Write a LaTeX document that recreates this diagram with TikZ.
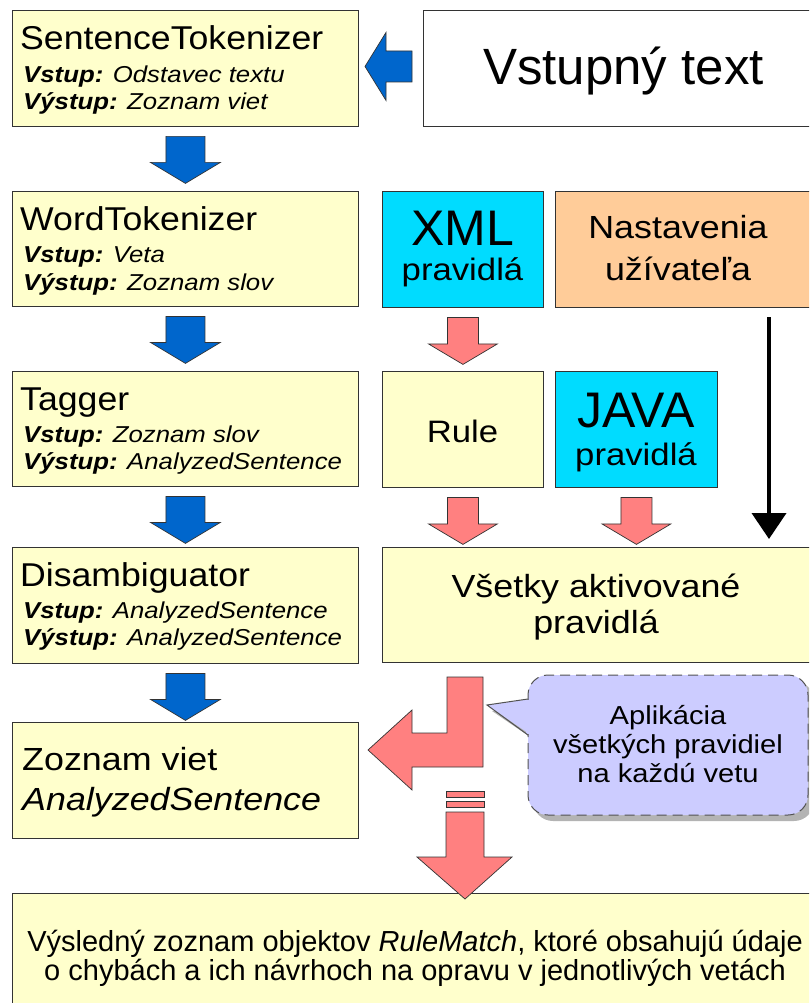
\documentclass[tikz,border=0pt]{standalone}
\usepackage{fontspec}
\setmainfont{Liberation Sans}
\newfontfamily\stf[FakeStretch=1.12]{Liberation Sans}
\newfontfamily\ttf[FakeStretch=1.08]{Liberation Sans}
\usetikzlibrary{arrows.meta,calc}
\definecolor{boxyellow}{HTML}{FFFFCC}
\definecolor{arrblue}{HTML}{0066CC}
\definecolor{arrpink}{HTML}{FF8080}
\definecolor{boxcyan}{HTML}{00DCFF}
\definecolor{boxorange}{HTML}{FFCC99}
\definecolor{lav}{HTML}{CCCCFF}
\definecolor{shadowgray}{HTML}{B3B3B3}
\definecolor{edge}{HTML}{333333}
\newcommand\fsz[1]{\fontsize{#1}{#1}\selectfont}
\begin{document}
\begin{tikzpicture}[x=1pt,y=-1pt,
  box/.style={draw=edge, line width=0.9pt, fill=boxyellow, rectangle, inner sep=0pt, anchor=north west},
  ttl/.style={anchor=base west, inner sep=0pt, font=\ttf\fsz{33}},
  sub/.style={anchor=base west, inner sep=0pt, font=\stf\fsz{23}},
  ctr/.style={anchor=base, inner sep=0pt},
  bluearrow/.style={draw=edge, line width=0.7pt, fill=arrblue},
  pinkarrow/.style={draw=edge, line width=0.7pt, fill=arrpink},
  bluedown/.pic={\path[bluearrow] (-19.5,-23.5) -- (19.5,-23.5) -- (19.5,2.5) -- (35,2.5) -- (0,23.5) -- (-35,2.5) -- (-19.5,2.5) -- cycle;},
  pinkdown/.pic={\path[pinkarrow] (-15.5,-23.5) -- (15.5,-23.5) -- (15.5,3) -- (34.5,3) -- (0,23.5) -- (-34.5,3) -- (-15.5,3) -- cycle;},
  blueleft/.pic={\path[bluearrow] (23.5,-15.5) -- (23.5,15.5) -- (-2.5,15.5) -- (-2.5,34) -- (-23.5,0) -- (-2.5,-34) -- (-2.5,-15.5) -- cycle;}
]
\useasboundingbox (0,0) rectangle (809,1003);
\clip (0,0) rectangle (809,1003);

% left column boxes
\node[box, minimum width=346pt, minimum height=116pt] (b1) at (12,10) {};
\node[box, minimum width=346pt, minimum height=115pt] (b2) at (12,191) {};
\node[box, minimum width=346pt, minimum height=115pt] (b3) at (12,371) {};
\node[box, minimum width=346pt, minimum height=116pt] (b4) at (12,547) {};
\node[box, minimum width=346pt, minimum height=116pt] (b5) at (12,722) {};

% right side boxes
\node[box, fill=white, minimum width=392pt, minimum height=116pt] (vst) at (423,10) {};
\node[box, fill=boxcyan, minimum width=161pt, minimum height=116pt] (xml) at (382,191) {};
\node[box, fill=boxorange, minimum width=260pt, minimum height=116pt] (nast) at (555,191) {};
\node[box, minimum width=161pt, minimum height=116pt] (rule) at (382,371) {};
\node[box, fill=boxcyan, minimum width=162pt, minimum height=116pt] (java) at (555,371) {};
\node[box, minimum width=433pt, minimum height=115pt] (all) at (382,547) {};
\node[box, minimum width=803pt, minimum height=120pt] (res) at (12,893) {};

% texts, left column
\node[ttl] (t1) at (20,50) {SentenceTokenizer};
\node[sub] (t1a) at (23,83) {{\bfseries\itshape Vstup:} {\itshape Odstavec textu}};
\node[sub] (t1b) at (23,110) {{\bfseries\itshape Výstup:} {\itshape Zoznam viet}};
\node[ttl] (t2) at (20,230) {WordTokenizer};
\node[sub] (t2a) at (23,262) {{\bfseries\itshape Vstup:} {\itshape Veta}};
\node[sub] (t2b) at (23,290) {{\bfseries\itshape Výstup:} {\itshape Zoznam slov}};
\node[ttl] (t3) at (20,410) {Tagger};
\node[sub] (t3a) at (23,442) {{\bfseries\itshape Vstup:} {\itshape Zoznam slov}};
\node[sub] (t3b) at (23,469) {{\bfseries\itshape Výstup:} {\itshape AnalyzedSentence}};
\node[ttl] (t4) at (20,586) {Disambiguator};
\node[sub] (t4a) at (23,618) {{\bfseries\itshape Vstup:} {\itshape AnalyzedSentence}};
\node[sub] (t4b) at (23,645) {{\bfseries\itshape Výstup:} {\itshape AnalyzedSentence}};
\node[ttl, font=\stf\fsz{32}] (t5) at (22,770) {Zoznam viet};
\node[ttl, font=\stf\fsz{32}] (t5a) at (22,810) {\itshape AnalyzedSentence};

% texts, right side
\node[ctr, font=\fsz{51}] (tv) at (623.5,85) {Vstupný text};
\node[ctr, font=\fsz{50}] (tx) at (462.5,245) {XML};
\node[ctr, font=\stf\fsz{31}] (txp) at (462.5,280) {pravidlá};
\node[ctr, font=\stf\fsz{32}] (tn1) at (678,238) {Nastavenia};
\node[ctr, font=\stf\fsz{32}] (tn2) at (678,280) {užívateľa};
\node[ctr, font=\stf\fsz{31}] (tr) at (462.5,442) {Rule};
\node[ctr, font=\fsz{50}] (tj) at (636,427) {JAVA};
\node[ctr, font=\stf\fsz{31}] (tjp) at (636,465) {pravidlá};
\node[ctr, font=\stf\fsz{32}] (ta1) at (596,597) {Všetky aktivované};
\node[ctr, font=\stf\fsz{32}] (ta2) at (596,633) {pravidlá};
\node[anchor=center, inner sep=0pt, align=center, font=\fontsize{29}{29}\selectfont] (tres) at (415,958.5)
  {Výsledný zoznam objektov {\itshape RuleMatch}, ktoré obsahujú údaje\\o chybách a ich návrhoch na opravu v jednotlivých vetách};

% blue block arrows
\pic at ([yshift=-33pt]b1.south) {bluedown};
\pic at ([yshift=-33pt]b2.south) {bluedown};
\pic at ([yshift=-33pt]b3.south) {bluedown};
\pic at ([yshift=-33pt]b4.south) {bluedown};
\pic at ([xshift=-34.5pt,yshift=2pt]vst.west) {blueleft};

% pink block arrows
\pic at ([yshift=-33pt]xml.south) {pinkdown};
\pic at ([yshift=-33pt]rule.south) {pinkdown};
\pic at ([yshift=-33pt]java.south) {pinkdown};

% black arrow from settings
\coordinate (bs) at (769,317);
\coordinate (be) at (769,539);
\draw[line width=4pt, -{Triangle[length=26pt,width=34pt]}] (bs) -- (be);

% L-shaped pink arrow into the sentence list
\path[pinkarrow] (483,677) -- (483,767) -- (412,767) -- (412,790) -- (368,750) -- (412,710) -- (412,733) -- (447,733) -- (447,677) -- cycle;

% pink arrow to the result
\path[pinkarrow] (446,791) rectangle (484,797);
\path[pinkarrow] (446,801) rectangle (484,807);
\path[pinkarrow] (446,812) -- (484,812) -- (484,857) -- (512,857) -- (465,899) -- (417,857) -- (446,857) -- cycle;

% callout
\fill[shadowgray, rounded corners=20pt] (533,681) rectangle (814,821);
\fill[shadowgray] (492,711) -- (536,705) -- (536,741) -- cycle;
\fill[lav, rounded corners=20pt] (528,675) rectangle (808,815);
\fill[lav] (487,705) -- (531,699) -- (531,735) -- cycle;
\draw[edge!85, line width=1pt, dash pattern=on 10pt off 6pt, rounded corners=20pt] (528,675) rectangle (808,815);
\fill[lav] (526,700) rectangle (530,734);
\draw[edge!85, line width=1pt] (528,699) -- (487,705) -- (528,735);
\node[ctr, font=\stf\fsz{26}] (c1) at (668,724) {Aplikácia};
\node[ctr, font=\stf\fsz{26}] (c2) at (668,753) {všetkých pravidiel};
\node[ctr, font=\stf\fsz{26}] (c3) at (668,782) {na každú vetu};
\end{tikzpicture}
\end{document}
